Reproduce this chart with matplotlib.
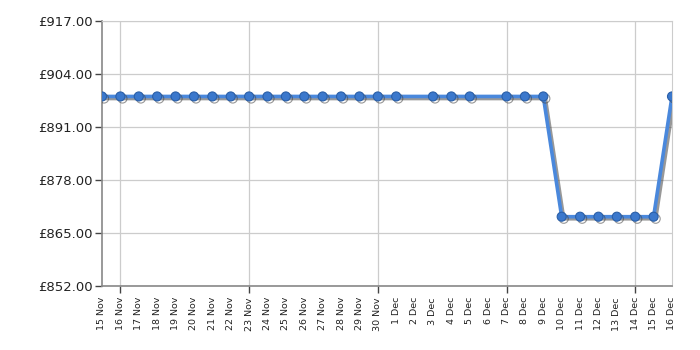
import matplotlib
matplotlib.use("Agg")
import matplotlib.pyplot as plt
import matplotlib.patheffects as pe

# days since 15 Nov; 2 Dec and 6 Dec have no price
day_labels = ["15 Nov", "16 Nov", "17 Nov", "18 Nov", "19 Nov", "20 Nov", "21 Nov", "22 Nov",
              "23 Nov", "24 Nov", "25 Nov", "26 Nov", "27 Nov", "28 Nov", "29 Nov", "30 Nov",
              "1 Dec", "2 Dec", "3 Dec", "4 Dec", "5 Dec", "6 Dec", "7 Dec", "8 Dec", "9 Dec",
              "10 Dec", "11 Dec", "12 Dec", "13 Dec", "14 Dec", "15 Dec", "16 Dec"]
price_days = [0, 1, 2, 3, 4, 5, 6, 7, 8, 9, 10, 11, 12, 13, 14, 15, 16,
              18, 19, 20, 22, 23, 24,
              25, 26, 27, 28, 29, 30,
              31]
prices = [898.49, 898.49, 898.49, 898.49, 898.49, 898.49, 898.49, 898.49, 898.49,
          898.49, 898.49, 898.49, 898.49, 898.49, 898.49, 898.49, 898.49,
          898.49, 898.49, 898.49, 898.49, 898.49, 898.49,
          868.99, 868.99, 868.99, 868.99, 868.99, 868.99,
          898.49]
y_ticks = [852, 865, 878, 891, 904, 917]
week_days = [1, 8, 15, 22, 29]

fig = plt.figure(figsize=(7, 3.5), dpi=100)
ax = fig.add_axes([0.1457, 0.183, 0.8143, 0.757])

ax.plot(price_days, prices, color="#4a88dc", lw=2.6, marker="o", ms=6.5,
        mfc="#3b78cc", mec="#2a5fa8", mew=0.8, zorder=3,
        path_effects=[pe.SimpleLineShadow(offset=(1.5, -1.5), shadow_color="#444444", alpha=0.55),
                      pe.Normal()])

ax.set_xlim(0, 31)
ax.set_ylim(852, 917)
ax.set_yticks(y_ticks)
ax.set_yticklabels(["£%.2f" % v for v in y_ticks], fontsize=9.5, color="#222222")
ax.set_xticks(range(len(day_labels)))
ax.set_xticklabels(day_labels, rotation=90, fontsize=6.8, color="#222222")
ax.tick_params(axis="x", length=5, color="#444444", width=1, pad=3)
ax.tick_params(axis="y", length=5, color="#444444", width=1, pad=2)

ax.grid(axis="y", color="#cccccc", lw=0.9)
ax.grid(axis="x", color="#cccccc", lw=0.9)
ax.set_axisbelow(True)
# only weekly days get a tick mark and a gridline
for i, t in enumerate(ax.xaxis.get_major_ticks()):
    if i not in week_days:
        t.tick1line.set_visible(False)
        t.gridline.set_visible(False)

for s in ["top", "right"]:
    ax.spines[s].set_color("#cccccc")
for s in ["left", "bottom"]:
    ax.spines[s].set_color("#888888")
    ax.spines[s].set_linewidth(1.2)

fig.savefig("out.png", dpi=100)
